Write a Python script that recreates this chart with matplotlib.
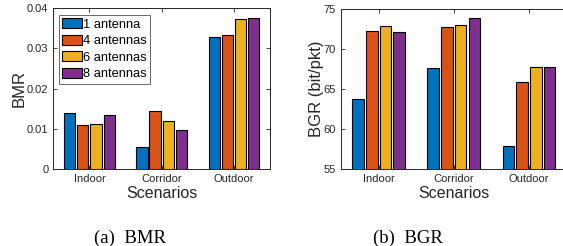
import numpy as np
import matplotlib
matplotlib.use("Agg")
import matplotlib.pyplot as plt

# data
scenarios = ["Indoor", "Corridor", "Outdoor"]
series_names = ["1 antenna", "4 antennas", "6 antennas", "8 antennas"]

bmr_1 = [0.0139, 0.0056, 0.0328]
bmr_4 = [0.0111, 0.0145, 0.0334]
bmr_6 = [0.0112, 0.0121, 0.0372]
bmr_8 = [0.0134, 0.0098, 0.0376]

bgr_1 = [63.8, 67.6, 57.9]
bgr_4 = [72.3, 72.8, 65.9]
bgr_6 = [72.9, 73.0, 67.8]
bgr_8 = [72.1, 73.9, 67.8]

bmr_ticks = [0, 0.01, 0.02, 0.03, 0.04]
bmr_ticklabels = ["0", "0.01", "0.02", "0.03", "0.04"]
bgr_ticks = [55, 60, 65, 70, 75]

colors = ["#0072BD", "#D95319", "#EDB120", "#7E2F8E"]
grey = "#262626"

plt.rcParams["font.family"] = ["Liberation Sans", "DejaVu Sans"]

W, H = 563, 246
fig = plt.figure(figsize=(W / 100, H / 100), dpi=100)


def px_axes(x0, x1, ytop, ybot):
    return fig.add_axes([x0 / W, 1 - ybot / H, (x1 - x0) / W, (ybot - ytop) / H])


def grouped(ax, data, ylim, ticks, ticklabels, ylabel):
    x = np.arange(1, len(scenarios) + 1)
    pitch = 0.182
    width = 0.155
    bars = []
    for i, vals in enumerate(data):
        off = (i - 1.5) * pitch
        b = ax.bar(x + off, vals, width, color=colors[i], edgecolor="black",
                   linewidth=0.8, zorder=2)
        bars.append(b)
    ax.set_xlim(0.5, 3.5)
    ax.set_ylim(*ylim)
    ax.set_xticks(x)
    ax.set_xticklabels(scenarios)
    ax.set_yticks(ticks)
    ax.set_yticklabels(ticklabels)
    ax.tick_params(direction="in", length=3, width=0.6, colors=grey,
                   labelsize=8, top=True, right=True)
    ax.tick_params(axis="x", pad=3.5)
    ax.tick_params(axis="y", pad=3.5)
    for s in ax.spines.values():
        s.set_color(grey)
        s.set_linewidth(0.7)
    ax.set_xlabel("Scenarios", fontsize=11.5, color=grey, labelpad=1)
    ax.set_ylabel(ylabel, fontsize=12, color=grey, labelpad=0)
    return bars


ax1 = px_axes(53.3, 270, 8, 169.3)
bars = grouped(ax1, [bmr_1, bmr_4, bmr_6, bmr_8], (0, 0.04), bmr_ticks,
               bmr_ticklabels, "BMR")
leg = ax1.legend(bars, series_names, loc="upper left",
                 bbox_to_anchor=(59 / W, 1 - 15 / H), bbox_transform=fig.transFigure,
                 fontsize=9.3, frameon=True, fancybox=False, borderaxespad=0,
                 borderpad=0.25, handlelength=1.5, handleheight=0.8,
                 handletextpad=0.1, labelspacing=0.32)
leg.get_frame().set_edgecolor(grey)
leg.get_frame().set_linewidth(0.6)
for t in leg.get_texts():
    t.set_color("black")

ax2 = px_axes(341, 566.6, 9, 169.3)
grouped(ax2, [bgr_1, bgr_4, bgr_6, bgr_8], (55, 75), bgr_ticks,
        [str(v) for v in bgr_ticks], "BGR (bit/pkt)")

fig.text(130 / W, 1 - 238 / H, "(a)  BMR", ha="center", va="center",
         fontsize=13.5, family=["Liberation Serif", "DejaVu Serif"])
fig.text(407.5 / W, 1 - 238 / H, "(b)  BGR", ha="center", va="center",
         fontsize=13.5, family=["Liberation Serif", "DejaVu Serif"])

fig.savefig("out.png", dpi=100)
